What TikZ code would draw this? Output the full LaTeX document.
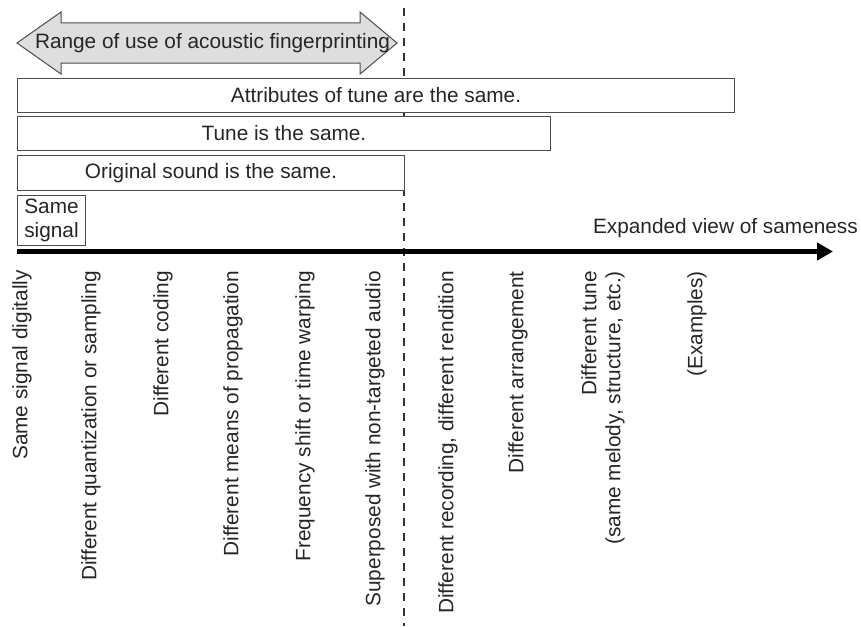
\documentclass[tikz,border=0pt]{standalone}
\usepackage{fontspec}
\setmainfont{Liberation Sans}
\usetikzlibrary{arrows.meta}
\tikzset{
  lbl/.style={font=\fontsize{20.8}{24}\selectfont, text=black!85},
  rangebox/.style={draw=black!70, fill=white, line width=1pt, inner sep=0pt, anchor=north west},
  vlab/.style={lbl, rotate=90, anchor=east, inner sep=0pt, align=right},
  dashline/.style={draw=black!80, line width=2pt, dash pattern=on 8pt off 7pt},
}
\begin{document}
\begin{tikzpicture}[x=1pt,y=-1pt]
\useasboundingbox (0,0) rectangle (861,626);
% dashed divider
\coordinate (dtop) at (404,8);
\coordinate (dbot) at (404,626);
\draw[dashline] (dtop) -- (dbot);
% big double arrow
\draw[fill=black!13, draw=black!70, line width=1pt]
  (17,43) -- (61,12) -- (61,23) -- (360,23) -- (360,12) -- (397,43)
  -- (360,74) -- (360,63) -- (61,63) -- (61,74) -- cycle;
\node[lbl] (range) at (212.5,43) {Range of use of acoustic fingerprinting};
% range boxes
\node[rangebox, minimum width=717pt, minimum height=34pt] (attr) at (17,78) {};
\node[lbl] (attrt) at (attr.center) {Attributes of tune are the same.};
\node[rangebox, minimum width=533pt, minimum height=34pt] (tune) at (17,116) {};
\node[lbl] (tunet) at (tune.center) {Tune is the same.};
\node[rangebox, minimum width=387pt, minimum height=35pt] (orig) at (17,155) {};
\node[lbl] (origt) at (orig.center) {Original sound is the same.};
\node[rangebox, minimum width=68pt, minimum height=50pt] (same) at (17,195) {};
\node[lbl, align=center, inner sep=0pt] (samet) at (same.center) {Same\\signal};
% axis
\coordinate (ax0) at (17,251.5);
\coordinate (ax1) at (833,251.5);
\draw[line width=5pt, -{Triangle[length=16pt,width=17pt]}] (ax0) -- (ax1);
\node[lbl, anchor=base east, inner sep=0pt] (axl) at (858,233) {Expanded view of sameness};
% vertical labels
\node[vlab] (l1) at (22,270) {Same signal digitally};
\node[vlab] (l2) at (91,271) {Different quantization or sampling};
\node[vlab] (l3) at (163,271) {Different coding};
\node[vlab] (l4) at (233,271) {Different means of propagation};
\node[vlab] (l5) at (305,271) {Frequency shift or time warping};
\node[vlab] (l6) at (375,271) {Superposed with non-targeted audio};
\node[vlab] (l7) at (448,271) {Different recording, different rendition};
\node[vlab] (l8) at (518,271) {Different arrangement};
\node[vlab] (l9) at (603,271) {Different tune\\(same melody, structure, etc.)};
\node[vlab] (l10) at (697,271) {(Examples)};
\end{tikzpicture}
\end{document}
